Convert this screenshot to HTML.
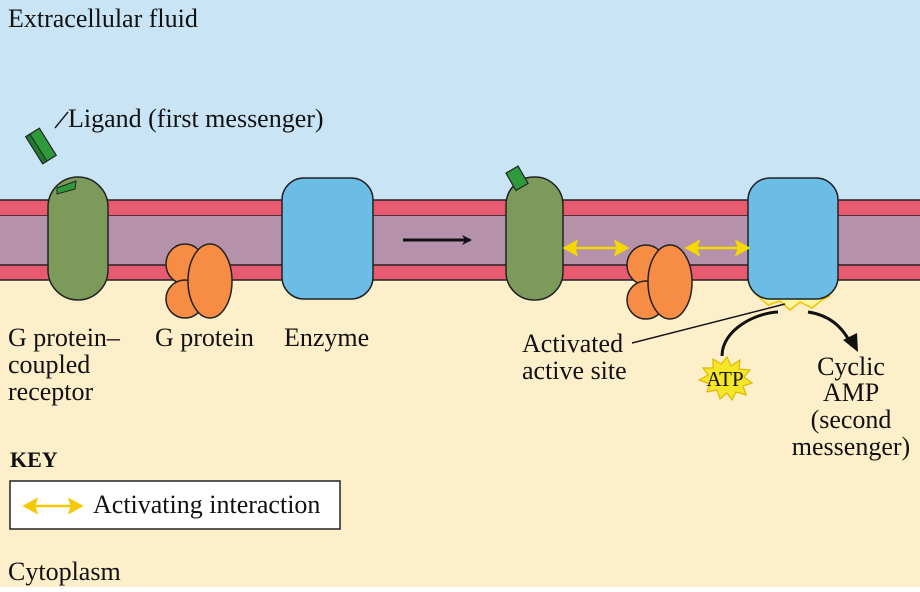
<!DOCTYPE html>
<html><head><style>
body{margin:0;width:920px;height:587px;overflow:hidden}
text{font-family:"Liberation Serif",serif;font-size:26px;fill:#111}
</style></head><body>
<svg width="920" height="587" viewBox="0 0 920 587" xmlns="http://www.w3.org/2000/svg">
<defs>
<marker id="ab" markerWidth="10" markerHeight="10" refX="8" refY="5" orient="auto" markerUnits="userSpaceOnUse"><path d="M0,0 L10,5 L0,10 L3,5z" fill="#111"/></marker>
</defs>
<rect x="0" y="0" width="920" height="200" fill="#c9e5f5"/>
<rect x="0" y="280" width="920" height="307" fill="#fdefc9"/>
<rect x="-2" y="200" width="924" height="16" fill="#e85a70" stroke="#222" stroke-width="1.5"/>
<rect x="0" y="216" width="920" height="49" fill="#b592aa"/>
<rect x="-2" y="265" width="924" height="15" fill="#e85a70" stroke="#222" stroke-width="1.5"/>
<text x="8" y="27">Extracellular fluid</text>
<text x="8" y="580">Cytoplasm</text>
<g transform="translate(41,146) rotate(-32)"><rect x="-8" y="-16" width="16" height="32" fill="#2e9a3c" stroke="#222" stroke-width="1.2"/><rect x="-8" y="-16" width="5" height="32" fill="#1f7a2c" stroke="#222" stroke-width="1"/></g>
<line x1="55" y1="128" x2="68" y2="112" stroke="#222" stroke-width="1.5"/>
<text x="68" y="127">Ligand (first messenger)</text>
<rect x="48" y="177" width="60" height="123" rx="30" fill="#7c9a59" stroke="#222" stroke-width="1.5"/>
<polygon points="57,188 76,181 75,189 57,194" fill="#2e9a3c" stroke="#222" stroke-width="1"/>
<g stroke="#222" stroke-width="1.5" fill="#f78c45">
<ellipse cx="185" cy="264" rx="19" ry="20"/><ellipse cx="185" cy="299" rx="19" ry="19"/><ellipse cx="210" cy="281" rx="22" ry="37"/></g>
<rect x="282" y="178" width="91" height="121" rx="22" fill="#6bbde6" stroke="#222" stroke-width="1.5"/>
<line x1="403" y1="240" x2="470" y2="240" stroke="#111" stroke-width="3" marker-end="url(#ab)"/>
<text x="8" y="346">G protein–</text><text x="8" y="373">coupled</text><text x="8" y="400">receptor</text>
<text x="155" y="346">G protein</text>
<text x="284" y="346">Enzyme</text>
<rect x="506" y="177" width="57" height="123" rx="28" fill="#7c9a59" stroke="#222" stroke-width="1.5"/>
<g transform="translate(518,180) rotate(-30)"><rect x="-7" y="-12" width="14" height="20" fill="#2e9a3c" stroke="#222" stroke-width="1.2"/></g>
<g stroke="#222" stroke-width="1.5" fill="#f78c45">
<ellipse cx="646" cy="265" rx="19" ry="20"/><ellipse cx="646" cy="300" rx="19" ry="19"/><ellipse cx="670" cy="282" rx="22" ry="37"/></g>
<polygon points="758,296 768,305 780,301 790,310 800,302 812,308 822,300 830,296" fill="#fff6a0" stroke="#f5c000" stroke-width="1.5"/>
<rect x="748" y="178" width="90" height="121" rx="22" fill="#6bbde6" stroke="#222" stroke-width="1.5"/>
<g stroke="#f5d800" stroke-width="2.5" fill="#f5d800">
<line x1="570" y1="248" x2="622" y2="248"/><polygon points="565,248 576,242 574,248 576,254"/><polygon points="627,248 616,242 618,248 616,254"/>
<line x1="692" y1="248" x2="743" y2="248"/><polygon points="687,248 698,242 696,248 698,254"/><polygon points="748,248 737,242 739,248 737,254"/>
</g>
<line x1="785" y1="304" x2="632" y2="343" stroke="#111" stroke-width="1.5"/>
<text x="522" y="352">Activated</text><text x="522" y="379">active site</text>
<path d="M722,356 C722,330 755,313 778,312" fill="none" stroke="#111" stroke-width="3"/>
<path d="M808,312 C828,315 842,325 852,346" fill="none" stroke="#111" stroke-width="3"/>
<polygon points="843,340 858,352 857,333" fill="#111"/>
<polygon points="727,357 731,366 740,360 739,369 750,370 744,377 752,383 743,386 746,395 736,392 732,400 727,393 720,399 717,390 707,392 710,384 699,380 708,375 703,368 713,368 713,359 721,364" fill="#f5e62a" stroke="#e0b800" stroke-width="1.2"/>
<text x="725" y="386" text-anchor="middle" style="font-size:21px">ATP</text>
<g text-anchor="middle"><text x="851" y="375">Cyclic</text><text x="851" y="401">AMP</text><text x="851" y="428">(second</text><text x="851" y="455">messenger)</text></g>
<text x="10" y="467" style="font-weight:bold;font-size:22px">KEY</text>
<rect x="10" y="481" width="330" height="48" fill="#fff" stroke="#222" stroke-width="1.5"/>
<g stroke="#f5c800" stroke-width="2.5" fill="#f5c800"><line x1="30" y1="506" x2="76" y2="506"/><polygon points="25,506 36,500 34,506 36,512"/><polygon points="81,506 70,500 72,506 70,512"/></g>
<text x="93" y="513">Activating interaction</text>
</svg>
</body></html>
